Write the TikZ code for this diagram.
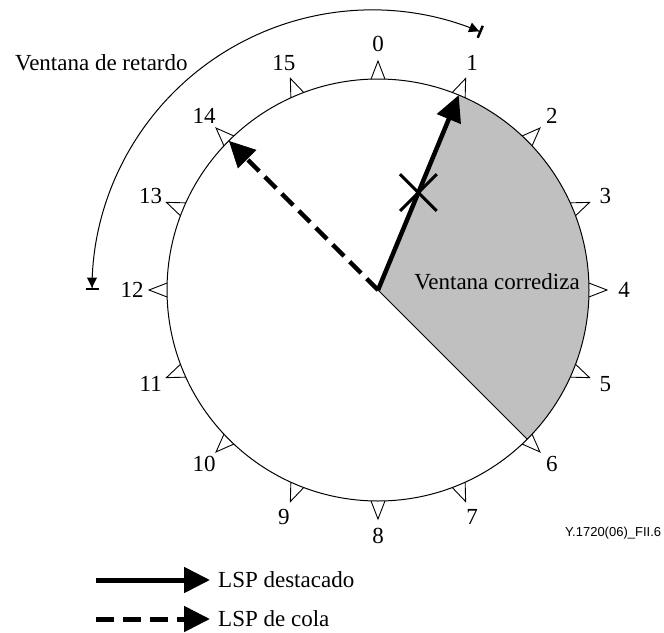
\documentclass[tikz,border=0pt]{standalone}
\usepackage{fontspec}
\setmainfont{Liberation Serif}
\newfontfamily\figsans{Liberation Sans}
\usetikzlibrary{arrows.meta,calc}
\begin{document}
\begin{tikzpicture}[x=1pt,y=1pt,
  lbl/.style={font=\fontsize{23}{27}\selectfont, inner sep=0pt},
  tickmark/.style={draw=black, line width=0.9pt, line join=miter},
  bigarrow/.style={line width=4.5pt, -{Triangle[length=26pt,width=25pt]}},
  dasharrow/.style={bigarrow, dash pattern=on 16pt off 8pt},
  winarrow/.style={line width=1pt, -{Triangle[length=10pt,width=10pt]Bar[width=13pt,line width=2.5pt]}},
  crossline/.style={line width=3pt}]
\useasboundingbox (0,0) rectangle (664,-632);
\coordinate (C) at (378,-290);
\def\R{211}
% sliding window sector
\fill[fill={rgb,255:red,192;green,192;blue,192}] (C) -- ($(C)+(67.5:\R)$) arc[start angle=67.5, end angle=-45, radius=\R] -- cycle;
% tick marks and labels
\foreach \k in {0,...,15} {
  \pgfmathsetmacro\a{90-22.5*\k}
  \draw[tickmark] ($(C)+(\a-1.9:\R)$) -- ($(C)+(\a:\R+18)$) -- ($(C)+(\a+1.9:\R)$);
  \node[lbl] (l\k) at ($(C)+(\a:246)$) {\k};
}
\draw[line width=1pt] (C) circle[radius=\R];
\coordinate (t1) at ($(C)+(67.5:\R)$);
\coordinate (t6) at ($(C)+(-45:\R)$);
\coordinate (t14) at ($(C)+(135:\R)$);
\draw[line width=0.8pt] (C) -- (t6);
% arrows
\draw[dasharrow] (C) -- (t14);
\draw[bigarrow] (C) -- (t1);
\coordinate (M) at ($(C)!0.5!(t1)$);
\draw[crossline] ($(M)+(45:26)$) -- ($(M)+(225:26)$);
\draw[crossline] ($(M)+(135:26)$) -- ($(M)+(-45:26)$);
% delay window arc
\coordinate (D) at (372,-290);
\coordinate (dm) at ($(D)+(124:280)$);
\draw[winarrow] (dm) arc[start angle=124, end angle=180, radius=280];
\draw[winarrow] (dm) arc[start angle=124, end angle=67, radius=280];
\node[lbl, anchor=west] (delay) at (15,-63) {Ventana de retardo};
\node[lbl] (slide) at (497,-282) {Ventana corrediza};
\node[font=\figsans\fontsize{13}{15}\selectfont, anchor=west, inner sep=0pt] (fig) at (565,-533) {Y.1720(06)\_FII.6};
% legend
\coordinate (s1) at (96,-580);
\coordinate (e1) at (210,-580);
\coordinate (s2) at (96,-619);
\coordinate (e2) at (210,-619);
\draw[bigarrow, line width=5pt] (s1) -- (e1);
\draw[dasharrow, line width=5pt, dash pattern=on 18pt off 9pt] (s2) -- (e2);
\node[lbl, anchor=west] (leg1) at (218,-580) {LSP destacado};
\node[lbl, anchor=west] (leg2) at (218,-619) {LSP de cola};
\end{tikzpicture}
\end{document}
